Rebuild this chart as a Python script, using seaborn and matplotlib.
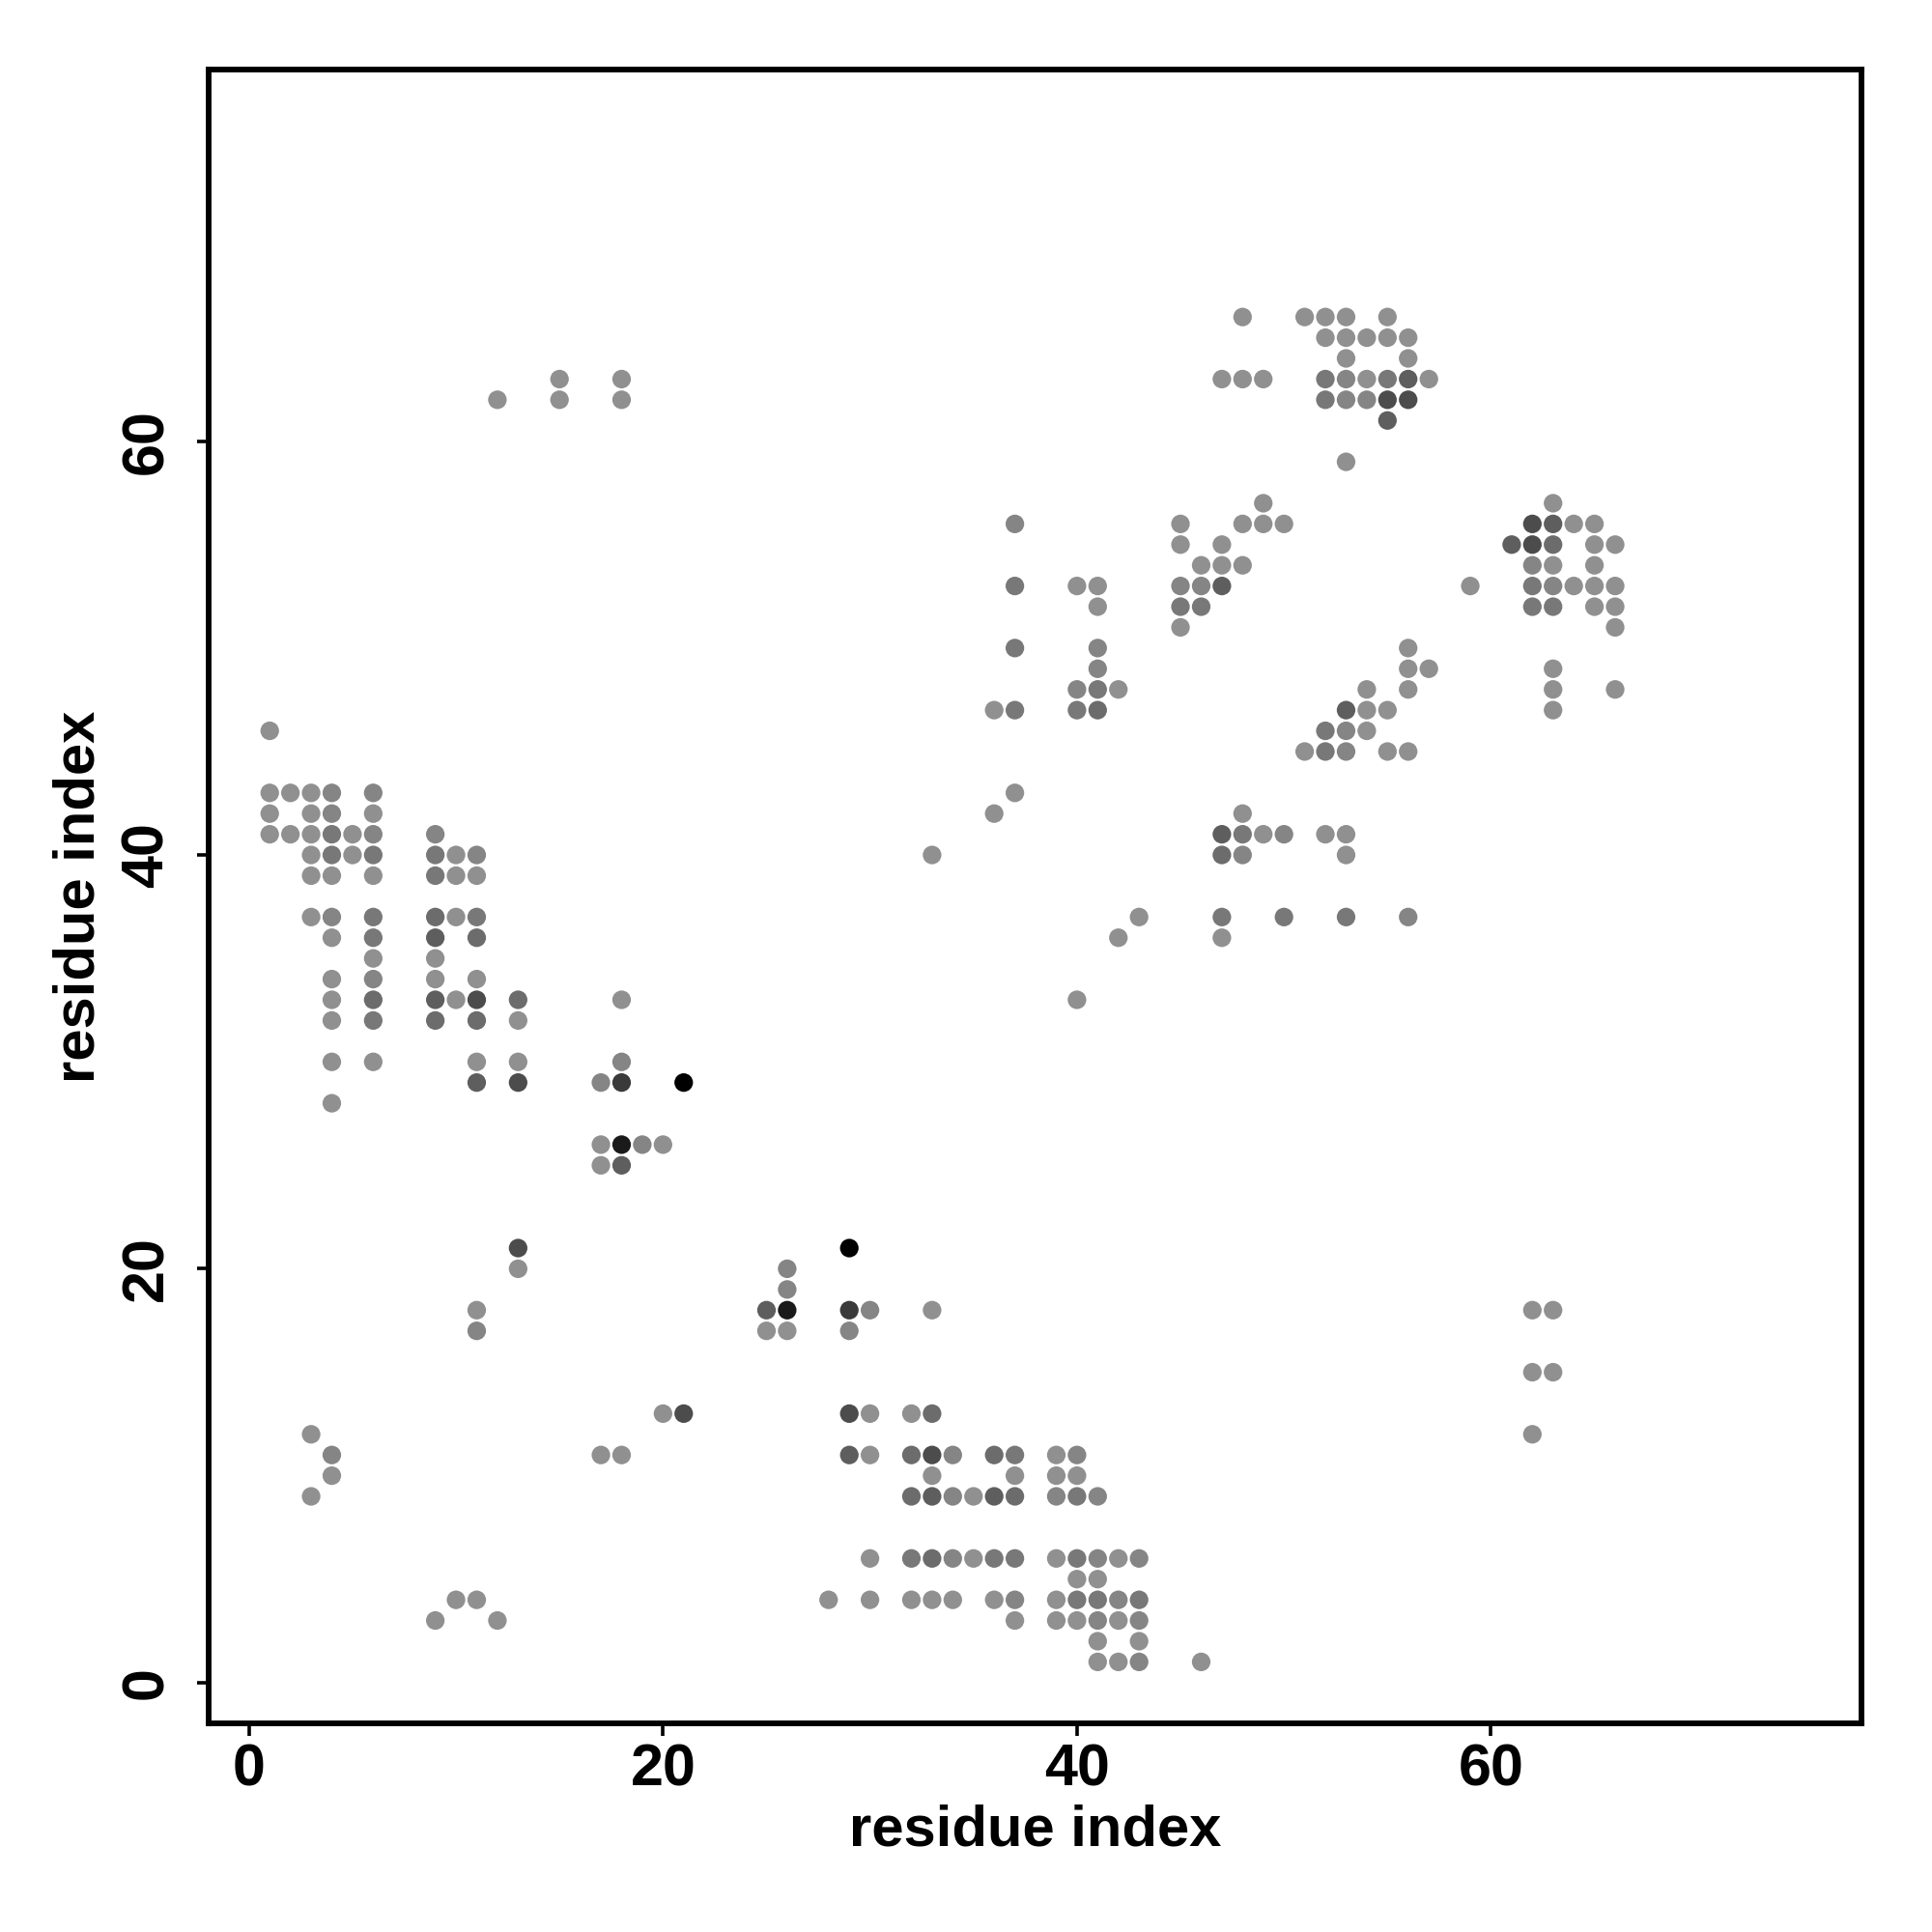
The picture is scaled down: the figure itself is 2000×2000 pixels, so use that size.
import matplotlib
matplotlib.use("Agg")
import matplotlib.pyplot as plt
import pandas as pd
import seaborn as sns

# contact map, one entry per row of the plot
row_y = [66, 65, 64, 63, 62, 61, 59, 57, 56, 55, 54, 53, 52, 51, 50, 49, 48, 47, 46, 45,
         43, 42, 41, 40, 39, 37, 36, 35, 34, 33, 32, 30, 29, 28, 26, 25,
         21, 20, 19, 18, 17, 15, 13, 12, 11, 10, 9, 6, 5, 4, 3, 2, 1]

row_x = [
    [48, 51, 52, 53, 55],
    [52, 53, 54, 55, 56],
    [53, 56],
    [15, 18, 47, 48, 49, 52, 53, 54, 55, 56, 57],
    [12, 15, 18, 52, 53, 54, 55, 56],
    [55],
    [53],
    [49, 63],
    [37, 45, 48, 49, 50, 62, 63, 64, 65],
    [45, 47, 61, 62, 63, 65, 66],
    [46, 47, 48, 62, 63, 65],
    [37, 40, 41, 45, 46, 47, 59, 62, 63, 64, 65, 66],
    [41, 45, 46, 62, 63, 65, 66],
    [45, 66],
    [37, 41, 56],
    [41, 56, 57, 63],
    [40, 41, 42, 54, 56, 63, 66],
    [36, 37, 40, 41, 53, 54, 55, 63],
    [1, 52, 53, 54],
    [51, 52, 53, 55, 56],
    [1, 2, 3, 4, 6, 37],
    [1, 3, 4, 6, 36, 48],
    [1, 2, 3, 4, 5, 6, 9, 47, 48, 49, 50, 52, 53],
    [3, 4, 5, 6, 9, 10, 11, 33, 47, 48, 53],
    [3, 4, 6, 9, 10, 11],
    [3, 4, 6, 9, 10, 11, 43, 47, 50, 53, 56],
    [4, 6, 9, 11, 42, 47],
    [6, 9],
    [4, 6, 9, 11],
    [4, 6, 9, 10, 11, 13, 18, 40],
    [4, 6, 9, 11, 13],
    [4, 6, 11, 13, 18],
    [11, 13, 17, 18, 21],
    [4],
    [17, 18, 19, 20],
    [17, 18],
    [13, 29],
    [13, 26],
    [26],
    [11, 25, 26, 29, 30, 33, 62, 63],
    [11, 25, 26, 29],
    [62, 63],
    [20, 21, 29, 30, 32, 33],
    [3, 62],
    [4, 17, 18, 29, 30, 32, 33, 34, 36, 37, 39, 40],
    [4, 33, 37, 39, 40],
    [3, 32, 33, 34, 35, 36, 37, 39, 40, 41],
    [30, 32, 33, 34, 35, 36, 37, 39, 40, 41, 42, 43],
    [40, 41],
    [10, 11, 28, 30, 32, 33, 34, 36, 37, 39, 40, 41, 42, 43],
    [9, 12, 37, 39, 40, 41, 42, 43],
    [41, 43],
    [41, 42, 43, 46],
]

# darkness of each dot, same shape as row_x
row_level = [
    [1, 1, 1, 1, 1],
    [1, 1, 1, 1, 1],
    [1, 1],
    [1, 1, 1, 1, 1, 3, 2, 1, 3, 5, 1],
    [1, 1, 1, 3, 2, 2, 6, 6],
    [5],
    [1],
    [1, 1],
    [2, 1, 1, 1, 1, 6, 5, 1, 1],
    [1, 1, 5, 6, 4, 1, 1],
    [1, 1, 1, 2, 1, 1],
    [3, 1, 1, 2, 2, 5, 1, 3, 2, 1, 1, 1],
    [1, 3, 3, 3, 3, 1, 1],
    [1, 1],
    [3, 2, 1],
    [2, 1, 1, 1],
    [2, 3, 1, 1, 1, 1, 1],
    [1, 3, 3, 4, 5, 1, 1, 1],
    [1, 3, 2, 1],
    [1, 3, 2, 1, 1],
    [1, 1, 1, 2, 2, 1],
    [1, 1, 2, 1, 1, 1],
    [1, 1, 1, 3, 1, 2, 2, 5, 3, 1, 2, 1, 1],
    [1, 3, 1, 3, 3, 1, 2, 1, 4, 2, 1],
    [1, 1, 1, 3, 1, 1],
    [1, 2, 3, 4, 1, 3, 1, 3, 3, 3, 2],
    [1, 3, 5, 4, 1, 1],
    [1, 1],
    [1, 2, 1, 1],
    [1, 4, 5, 1, 6, 4, 1, 1],
    [1, 3, 4, 4, 1],
    [1, 1, 1, 1, 2],
    [5, 6, 2, 7, 9],
    [1],
    [1, 8, 2, 1],
    [1, 5],
    [6, 9],
    [1, 2],
    [2],
    [1, 5, 8, 7, 2, 1, 1, 1],
    [2, 1, 1, 2],
    [1, 1],
    [1, 6, 6, 1, 1, 4],
    [1, 1],
    [2, 1, 1, 5, 1, 4, 6, 2, 4, 3, 1, 2],
    [1, 1, 1, 1, 1],
    [1, 4, 5, 2, 1, 5, 4, 2, 3, 2],
    [1, 3, 4, 2, 1, 3, 3, 1, 3, 2, 1, 2],
    [1, 1],
    [1, 1, 1, 1, 1, 1, 1, 1, 2, 1, 3, 3, 2, 3],
    [1, 1, 1, 1, 1, 2, 1, 2],
    [1, 1],
    [1, 1, 2, 1],
]

ticks = [0, 20, 40, 60]
level_colors = {1: "#909090", 2: "#858585", 3: "#787878", 4: "#6c6c6c", 5: "#5e5e5e",
                6: "#4c4c4c", 7: "#3a3a3a", 8: "#1a1a1a", 9: "#000000"}

df = pd.DataFrame({"y": row_y, "x": row_x, "level": row_level}).explode(["x", "level"])
df = df.astype({"x": int, "level": int})

sns.set_theme(style="white")
plt.rcParams["font.family"] = ["Liberation Sans", "DejaVu Sans"]
plt.rcParams["font.weight"] = "bold"

fig = plt.figure(figsize=(10, 10), dpi=200)
ax = fig.add_axes([0.108, 0.108, 0.8555, 0.856])

sns.scatterplot(data=df, x="x", y="y", hue="level", palette=level_colors,
                s=48, linewidth=0, legend=False, ax=ax)

ax.set_xlim(-1.95, 77.9)
ax.set_ylim(-1.97, 77.96)
ax.set_xticks(ticks)
ax.set_yticks(ticks)
ax.tick_params(axis="both", length=4.5, width=1.3, color="black", labelcolor="black",
               labelsize=22, bottom=True, left=True)
ax.tick_params(axis="x", pad=3)
ax.tick_params(axis="y", pad=8)
for lab in ax.get_yticklabels():
    lab.set_rotation(90)
    lab.set_va("center")
for lab in ax.get_xticklabels() + ax.get_yticklabels():
    lab.set_fontweight("bold")

ax.set_xlabel("residue index", fontsize=21.5, fontweight="bold", color="black", labelpad=2.2)
ax.set_ylabel("residue index", fontsize=21.5, fontweight="bold", color="black", labelpad=5.3)

for sp in ax.spines.values():
    sp.set_visible(True)
    sp.set_color("black")
    sp.set_linewidth(2.1)

fig.savefig("out.png", dpi=200, facecolor="white")
